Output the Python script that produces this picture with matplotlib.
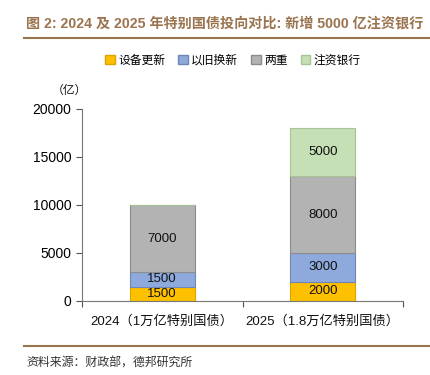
import numpy as np
import matplotlib.pyplot as plt
from matplotlib.patches import Patch

plt.rcParams['font.family'] = ['Liberation Sans', 'Noto Sans CJK SC', 'DejaVu Sans']

categories = ['2024（1万亿特别国债）', '2025（1.8万亿特别国债）']
series_names = ['设备更新', '以旧换新', '两重', '注资银行']
series_values = [
    [1500, 2000],
    [1500, 3000],
    [7000, 8000],
    [0, 5000],
]
colors = ['#FFC000', '#8EA9DB', '#B3B3B3', '#C5E0B4']
edges = ['#D9A300', '#6F86B8', '#8C8C8C', '#A7C496']

fig = plt.figure(figsize=(4.31, 3.75), dpi=100)
ax = fig.add_axes([82 / 431, 1 - 301 / 375, (403 - 82) / 431, (301 - 109) / 375])

x = np.arange(len(categories))
bottom = np.zeros(len(categories))
for vals, name, c, ec in zip(series_values, series_names, colors, edges):
    vals = np.array(vals, dtype=float)
    ax.bar(x, vals, 0.405, bottom=bottom, color=c, edgecolor=ec, linewidth=0.8, label=name)
    for xi, v, b in zip(x, vals, bottom):
        if v > 0:
            ax.text(xi, b + v / 2, f'{int(v)}', ha='center', va='center', fontsize=9.5, color='#111111')
    bottom += vals

ax.set_xlim(-0.5, 1.5)
ax.set_ylim(0, 20000)
ax.set_yticks([0, 5000, 10000, 15000, 20000])
ax.set_xticks([-0.5, 0.5, 1.5])
ax.set_xticklabels(['', '', ''])
ax.tick_params(axis='x', length=4, color='#555555')
ax.tick_params(axis='y', length=4, color='#555555', labelsize=10)
for i, lab in enumerate(categories):
    ax.text(x[i], -1500, lab, ha='center', va='top', fontsize=9.5, color='#111111')
for s in ['top', 'right']:
    ax.spines[s].set_visible(False)
ax.spines['left'].set_color('#777777')
ax.spines['bottom'].set_color('#777777')
fig.text(52 / 431, 1 - 91 / 375, '（亿）', fontsize=8.5, ha='left', va='center', color='#111111')

handles = [Patch(facecolor=c, edgecolor=ec, label=n) for c, ec, n in zip(colors, edges, series_names)]
fig.legend(handles=handles, loc='center', bbox_to_anchor=(233 / 431, 1 - 61 / 375), ncol=4, frameon=False,
           fontsize=8.5, handlelength=0.8, handleheight=0.8, handletextpad=0.3, columnspacing=1.1)

title_color = '#9B7550'
fig.text(26 / 431, 1 - 24 / 375, '图 2: 2024 及 2025 年特别国债投向对比: 新增 5000 亿注资银行',
         fontsize=10.2, fontweight='bold', color=title_color, ha='left', va='center')
fig.add_artist(plt.Line2D([24 / 431, 1], [1 - 38 / 375] * 2, color=title_color, linewidth=1.5))
fig.add_artist(plt.Line2D([24 / 431, 1], [1 - 346 / 375] * 2, color=title_color, linewidth=1.5))
fig.text(26 / 431, 1 - 364 / 375, '资料来源：财政部，德邦研究所', fontsize=8.6, color='#333333', ha='left', va='center')

fig.savefig('out.png', dpi=100)
